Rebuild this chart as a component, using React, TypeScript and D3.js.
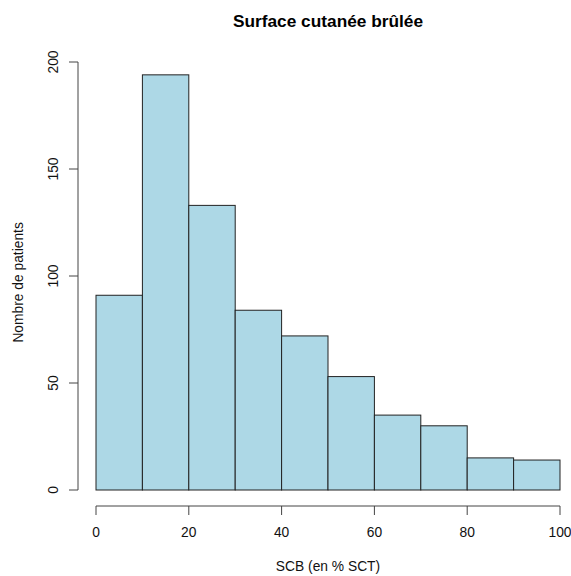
import React from "react";
import * as d3 from "d3";

const binStarts = [0, 10, 20, 30, 40, 50, 60, 70, 80, 90];
const binWidth = 10;
const counts = [91, 194, 133, 84, 72, 53, 35, 30, 15, 14];
const xTicks = [0, 20, 40, 60, 80, 100];
const yTicks = [0, 50, 100, 150, 200];
const title = "Surface cutanée brûlée";
const xTitle = "SCB (en % SCT)";
const yTitle = "Nombre de patients";

export default function App() {
  const W = 571, H = 576;
  const x = d3.scaleLinear().domain([0, 100]).range([96, 560]);
  const y = d3.scaleLinear().domain([0, 200]).range([490, 62]);
  const axisX = 78;
  const axisY = 506;
  const font = "Liberation Sans, Arial, Helvetica, sans-serif";
  const fs = 13.8;
  // plot region (R pads the y range by 4%)
  const yRegionCenter = (y(-7.76) + y(201.76)) / 2;
  return (
    <svg width={W} height={H} style={{ position: "absolute", left: 0, top: 0, background: "#fff" }} fontFamily={font}>
      {binStarts.map((b, i) => (
        <rect key={i} x={x(b)} y={y(counts[i])} width={x(b + binWidth) - x(b)} height={y(0) - y(counts[i])}
          fill="#ADD8E6" stroke="#222" strokeWidth={1} />
      ))}
      {/* y axis */}
      <line x1={axisX} x2={axisX} y1={y(0)} y2={y(200)} stroke="#444" />
      {yTicks.map(t => (
        <g key={t}>
          <line x1={axisX - 9} x2={axisX} y1={y(t)} y2={y(t)} stroke="#444" />
          <text transform={`translate(${axisX - 20},${y(t)}) rotate(-90)`} textAnchor="middle" fontSize={fs} fill="#111">{t}</text>
        </g>
      ))}
      {/* x axis */}
      <line x1={x(0)} x2={x(100)} y1={axisY} y2={axisY} stroke="#444" />
      {xTicks.map(t => (
        <g key={t}>
          <line x1={x(t)} x2={x(t)} y1={axisY} y2={axisY + 9} stroke="#444" />
          <text x={x(t)} y={537} textAnchor="middle" fontSize={fs} fill="#111">{t}</text>
        </g>
      ))}
      <text x={(x(0) + x(100)) / 2} y={27} textAnchor="middle" fontSize={17.3} fontWeight="bold" fill="#000">{title}</text>
      <text x={(x(0) + x(100)) / 2} y={571} textAnchor="middle" fontSize={fs} fill="#111">{xTitle}</text>
      <text transform={`translate(23,${yRegionCenter}) rotate(-90)`} textAnchor="middle" fontSize={fs} fill="#111">{yTitle}</text>
    </svg>
  );
}
